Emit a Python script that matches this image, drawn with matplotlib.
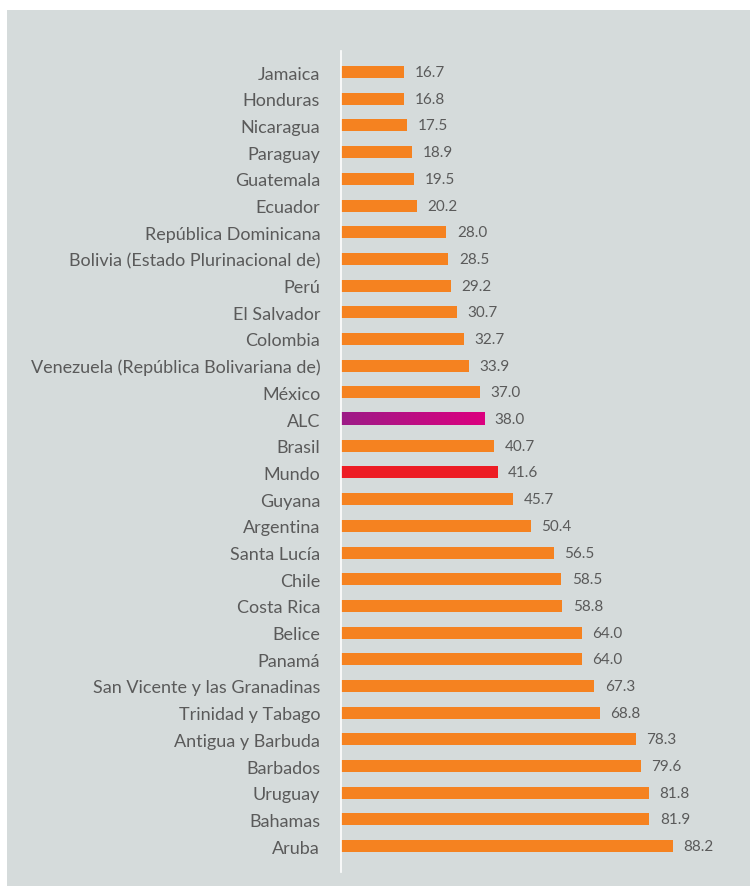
import numpy as np
import matplotlib
matplotlib.use("Agg")
import matplotlib.pyplot as plt
from matplotlib.patches import Rectangle

# ==================================================
# DATA
# ==================================================

countries = [
    "Jamaica", "Honduras", "Nicaragua", "Paraguay", "Guatemala", "Ecuador",
    "República Dominicana", "Bolivia (Estado Plurinacional de)", "Perú",
    "El Salvador", "Colombia", "Venezuela (República Bolivariana de)",
    "México", "ALC", "Brasil", "Mundo", "Guyana", "Argentina", "Santa Lucía",
    "Chile", "Costa Rica", "Belice", "Panamá", "San Vicente y las Granadinas",
    "Trinidad y Tabago", "Antigua y Barbuda", "Barbados", "Uruguay",
    "Bahamas", "Aruba",
]
values = [
    16.7, 16.8, 17.5, 18.9, 19.5, 20.2, 28.0, 28.5, 29.2, 30.7, 32.7, 33.9,
    37.0, 38.0, 40.7, 41.6, 45.7, 50.4, 56.5, 58.5, 58.8, 64.0, 64.0, 67.3,
    68.8, 78.3, 79.6, 81.8, 81.9, 88.2,
]

ORANGE = "#f58220"
RED = "#ed1c24"
GRAD_LEFT = "#9c1c87"
GRAD_RIGHT = "#dc007f"
PANEL = "#d5dbdb"
TEXT = "#5a5a5a"

plt.rcParams["font.family"] = ["Lato", "DejaVu Sans"]

# ==================================================
# FIGURE
# ==================================================

fig = plt.figure(figsize=(7.5, 8.87), dpi=100)
fig.patches.append(Rectangle((7 / 750, 0), 1 - 7 / 750, 1 - 11 / 887,
                             transform=fig.transFigure, facecolor=PANEL,
                             edgecolor="none", zorder=-10))

ax = fig.add_axes([341 / 750, 14 / 887, 1 - 341 / 750 - 4 / 750, (873 - 52) / 887])
ax.patch.set_alpha(0)

y = np.arange(len(countries))
bar_h = 0.45
colors = []
for c in countries:
    if c == "Mundo":
        colors.append(RED)
    elif c == "ALC":
        colors.append("none")
    else:
        colors.append(ORANGE)

ax.barh(y, values, height=bar_h, color=colors, zorder=2)

# gradient bar for ALC
i = countries.index("ALC")
grad = np.linspace(0, 1, 256).reshape(1, -1)
cmap = matplotlib.colors.LinearSegmentedColormap.from_list("alc", [GRAD_LEFT, GRAD_RIGHT])
ax.imshow(grad, cmap=cmap, aspect="auto", zorder=2,
          extent=[0, values[i], i + bar_h / 2, i - bar_h / 2])

for yi, v in zip(y, values):
    ax.text(v + 2.8, yi, f"{v:.1f}", va="center", ha="left",
            fontsize=11, color=TEXT)

ax.set_xlim(0, 107.6)
ax.set_ylim(len(countries) - 1 + 0.97, -0.79)
ax.set_yticks(y)
ax.set_yticklabels(countries, fontsize=13, color=TEXT)
ax.tick_params(axis="y", length=0, pad=15)
ax.set_xticks([])

for s in ["top", "right", "bottom"]:
    ax.spines[s].set_visible(False)
ax.spines["left"].set_color("white")
ax.spines["left"].set_linewidth(1.2)

plt.savefig("out.png", dpi=100, facecolor="white")
plt.close()
